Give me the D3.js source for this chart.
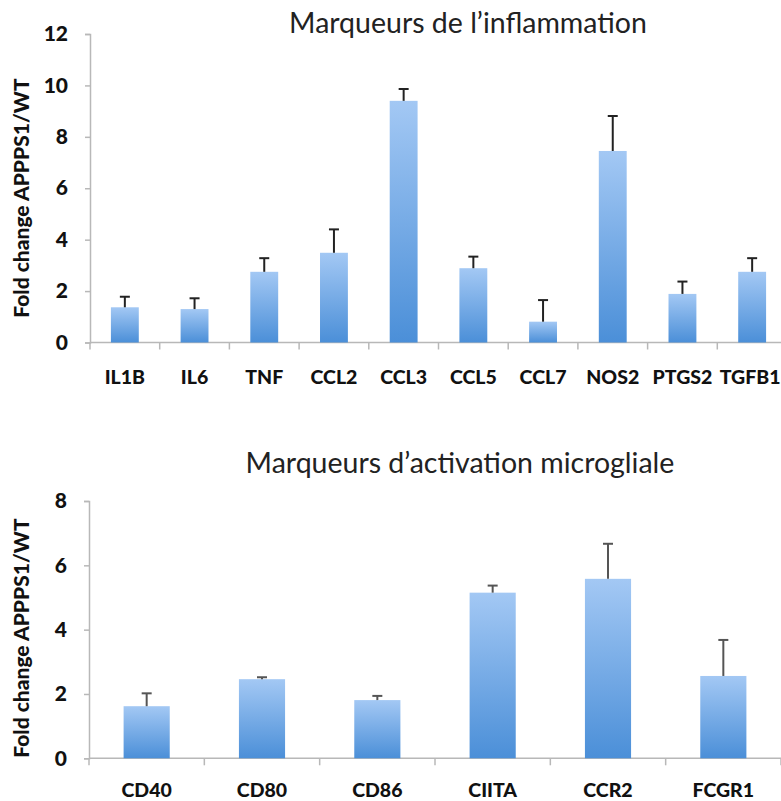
<!DOCTYPE html>
<html><head><meta charset="utf-8">
<script src="https://cdn.jsdelivr.net/npm/d3@7"></script>
<style>
html,body{margin:0;padding:0;background:#fff;}
svg{display:block;}
text{font-family:Lato,"Open Sans",sans-serif;}
</style></head>
<body>
<svg id="chart" width="781" height="801"></svg>
<script>
// ---- Data ----
const inflCategories = ["IL1B","IL6","TNF","CCL2","CCL3","CCL5","CCL7","NOS2","PTGS2","TGFB1"];
const inflValues     = [1.37, 1.30, 2.75, 3.49, 9.40, 2.89, 0.81, 7.45, 1.89, 2.75];
const inflErrors     = [0.41, 0.42, 0.53, 0.91, 0.46, 0.45, 0.84, 1.36, 0.48, 0.53];
const inflTicks      = [0, 2, 4, 6, 8, 10, 12];
const inflTitle      = "Marqueurs de l’inflammation";

const actCategories = ["CD40","CD80","CD86","CIITA","CCR2","FCGR1"];
const actValues     = [1.62, 2.46, 1.81, 5.15, 5.58, 2.56];
const actErrors     = [0.40, 0.06, 0.13, 0.22, 1.09, 1.12];
const actTicks      = [0, 2, 4, 6, 8];
const actTitle      = "Marqueurs d’activation microgliale";

const yLabel = "Fold change APPPS1/WT";

const svg = d3.select("#chart");
const defs = svg.append("defs");
const grad = defs.append("linearGradient").attr("id","barGrad")
  .attr("x1",0).attr("y1",0).attr("x2",0).attr("y2",1);
grad.append("stop").attr("offset","0%").attr("stop-color","#a3c8f4");
grad.append("stop").attr("offset","100%").attr("stop-color","#4b8fd8");

function drawPanel(cfg){
  const g = svg.append("g");
  const x = d3.scaleBand().domain(cfg.categories).range([cfg.x0, cfg.x1]).paddingInner(0.6).paddingOuter(0.3);
  const y = d3.scaleLinear().domain([0, d3.max(cfg.ticks)]).range([cfg.yBottom, cfg.yTop]);

  // y axis
  const yAxis = g.append("g").attr("transform",`translate(${cfg.x0},0)`)
    .call(d3.axisLeft(y).tickValues(cfg.ticks).tickSize(5).tickPadding(17).tickFormat(d3.format("d")));
  yAxis.select(".domain").attr("stroke","#b8b8b8").attr("stroke-width",1.5);
  yAxis.selectAll(".tick line").attr("stroke","#b8b8b8").attr("stroke-width",1.5);
  yAxis.selectAll(".tick text").attr("font-size",21).attr("font-weight","900").attr("fill","#111")
    .attr("font-family","Lato, sans-serif");

  // x axis with ticks between categories
  const bw = (cfg.x1 - cfg.x0) / cfg.categories.length;
  const xAxisG = g.append("g").attr("transform",`translate(0,${cfg.yBottom})`);
  const edges = d3.range(cfg.categories.length + 1).map(i => cfg.x0 + i*bw);
  xAxisG.append("line").attr("x1",cfg.x0).attr("x2",cfg.x1).attr("y1",0).attr("y2",0)
    .attr("stroke","#b8b8b8").attr("stroke-width",1.5);
  xAxisG.selectAll("line.tk").data(edges).join("line").attr("class","tk")
    .attr("x1",d=>d).attr("x2",d=>d).attr("y1",0).attr("y2",7)
    .attr("stroke","#b8b8b8").attr("stroke-width",1.5);
  xAxisG.selectAll("text").data(cfg.categories).join("text")
    .attr("x",(d,i)=>x(d)+x.bandwidth()/2 + (i===cfg.categories.length-1 ? cfg.lastShift : 0))
    .attr("y",cfg.labelDy)
    .attr("text-anchor","middle").attr("font-size",cfg.labelSize).attr("font-weight","900").attr("fill","#111")
    .text(d=>d);

  // bars
  g.selectAll("rect.bar").data(cfg.categories).join("rect").attr("class","bar")
    .attr("x",d=>x(d)).attr("width",x.bandwidth())
    .attr("y",(d,i)=>y(cfg.values[i])).attr("height",(d,i)=>cfg.yBottom - y(cfg.values[i]))
    .attr("fill","url(#barGrad)");

  // error bars (upper only)
  const eb = g.selectAll("g.err").data(cfg.categories).join("g").attr("class","err");
  eb.append("line")
    .attr("x1",d=>x(d)+x.bandwidth()/2).attr("x2",d=>x(d)+x.bandwidth()/2)
    .attr("y1",(d,i)=>y(cfg.values[i])).attr("y2",(d,i)=>y(cfg.values[i]+cfg.errors[i]))
    .attr("stroke",cfg.errColor).attr("stroke-width",2);
  eb.append("line")
    .attr("x1",d=>x(d)+x.bandwidth()/2-cfg.cap).attr("x2",d=>x(d)+x.bandwidth()/2+cfg.cap)
    .attr("y1",(d,i)=>y(cfg.values[i]+cfg.errors[i])).attr("y2",(d,i)=>y(cfg.values[i]+cfg.errors[i]))
    .attr("stroke",cfg.errColor).attr("stroke-width",2);

  // title
  g.append("text").attr("x",cfg.titleX).attr("y",cfg.titleY).attr("text-anchor","middle")
    .attr("font-size",28.5).attr("fill","#222").text(cfg.title);

  // y label
  g.append("text").attr("transform",`translate(${cfg.yLabelX},${cfg.yLabelY}) rotate(-90)`)
    .attr("text-anchor","middle").attr("font-size",21).attr("font-weight","900").attr("fill","#111")
    .text(yLabel);
}

drawPanel({categories:inflCategories, values:inflValues, errors:inflErrors, ticks:inflTicks,
  title:inflTitle, x0:90, x1:787, yTop:34, yBottom:342.5, labelDy:41, errColor:"#222", cap:5,
  labelSize:19.5, lastShift:-2,
  titleX:468, titleY:33, yLabelX:29, yLabelY:198});

drawPanel({categories:actCategories, values:actValues, errors:actErrors, ticks:actTicks,
  title:actTitle, x0:89, x1:781, yTop:501, yBottom:758.3, labelDy:39, errColor:"#555", cap:5,
  labelSize:19.5, lastShift:0,
  titleX:460, titleY:473, yLabelX:29, yLabelY:638});
</script>
</body></html>
